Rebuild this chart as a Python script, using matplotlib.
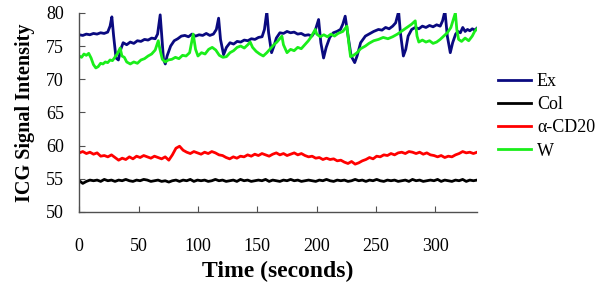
import numpy as np
import matplotlib
matplotlib.use("Agg")
import matplotlib.pyplot as plt

# ---- data ----
ex_t = [0, 3, 6, 9, 12, 15, 18, 21, 24, 26, 27.5, 29, 31, 33, 35, 37, 40, 43, 46, 49,
        52, 55, 58, 61, 64, 66, 68.2, 69.5, 71, 72.5, 74, 77, 80, 83, 86, 89, 92, 95, 98, 101,
        104, 107, 110, 113, 115.5, 117.4, 119, 121.6, 124, 127, 130, 133, 136, 139, 142, 145, 148, 151, 154, 156,
        158, 159.5, 162, 164, 166, 169, 172, 175, 178, 181, 184, 187, 190, 193, 196, 198.5, 201.6, 203.5, 205.8, 208,
        211, 214, 217, 220, 222, 224, 226, 229, 232, 234, 237, 241, 244, 248, 252, 255, 258, 261, 264, 266.5,
        269, 270.5, 273, 275, 277, 280, 283, 286, 289, 292, 295, 298, 301, 304, 306, 308, 310, 312.5, 314.5, 317,
        319, 321, 323, 325, 327, 329, 331, 333, 335]
ex_v = [76.7, 76.6, 76.8, 76.7, 76.9, 76.8, 77.0, 76.9, 77.1, 78.0, 79.4, 76.5, 73.2, 72.9, 74.5, 75.5, 75.2, 75.6, 75.4, 75.8,
        75.7, 76.0, 75.9, 76.2, 76.1, 76.8, 79.7, 76.5, 73.0, 72.3, 73.5, 75.0, 75.8, 76.1, 76.5, 76.6, 76.4, 76.8, 76.5, 76.7,
        76.6, 76.9, 76.6, 76.8, 77.5, 79.2, 76.0, 73.7, 74.8, 75.5, 75.3, 75.7, 75.6, 75.9, 75.8, 76.1, 76.0, 76.3, 76.4, 77.5,
        80.2, 77.0, 74.0, 75.0, 76.2, 77.0, 76.9, 77.2, 77.0, 77.1, 76.8, 76.9, 76.6, 76.7, 76.5, 77.2, 79.0, 75.5, 73.2, 74.8,
        76.3, 77.0, 77.2, 77.5, 78.3, 79.5, 77.0, 73.5, 72.5, 73.5, 75.5, 76.5, 76.8, 77.2, 77.5, 77.4, 77.8, 77.6, 78.0, 78.5,
        80.2, 77.0, 73.5, 74.5, 76.5, 77.5, 77.8, 77.6, 78.0, 77.8, 78.1, 77.9, 78.2, 78.0, 78.8, 80.3, 76.5, 74.0, 75.5, 76.8,
        77.2, 77.0, 77.8, 77.2, 77.5, 77.3, 77.6, 77.4, 77.7]

w_t = [0, 2, 4, 6, 8, 10, 12, 14, 16, 18, 20, 22, 24, 26, 28, 30, 32, 34.5, 36, 38,
       40, 43, 46, 49, 52, 55, 58, 61, 64, 66.6, 68, 70, 72.5, 75, 78, 81, 84, 87, 90, 93,
       96, 98, 100, 103, 106, 109, 112, 115, 118, 121, 124, 127, 130, 133, 136, 139, 142, 144, 146, 149,
       152, 155, 158, 161, 164, 166.5, 170.7, 172, 175, 178, 181, 184, 187, 190, 193, 195, 198.8, 200, 203, 206,
       209, 212, 215, 218, 222, 225.5, 227, 228.5, 231, 234, 237, 241, 244, 248, 252, 256, 260, 264, 268, 272,
       276, 280, 283, 284.5, 286, 289, 292, 295, 298, 301, 304, 307, 310, 313, 316.8, 318, 319.5, 322, 325, 328,
       331, 333, 335]
w_v = [73.5, 73.3, 73.8, 73.6, 73.9, 73.2, 72.2, 71.7, 71.9, 72.4, 72.3, 72.6, 72.5, 72.9, 72.8, 73.3, 73.8, 74.7, 73.5, 73.3,
       72.6, 72.3, 72.6, 72.4, 72.9, 73.1, 73.5, 73.8, 74.4, 75.8, 74.5, 73.0, 72.6, 72.9, 73.0, 73.3, 73.1, 73.6, 73.5, 74.0,
       76.8, 74.5, 73.5, 74.0, 73.8, 74.5, 74.8, 74.4, 73.6, 73.3, 73.4, 74.0, 74.3, 74.8, 75.0, 74.7, 75.2, 75.6, 74.8, 74.2,
       73.8, 73.5, 74.0, 74.6, 75.2, 75.6, 76.5, 75.2, 74.0, 74.5, 74.3, 74.8, 74.6, 75.2, 75.8, 76.3, 77.5, 76.8, 76.4, 76.7,
       76.4, 76.8, 76.5, 76.9, 77.2, 78.0, 75.5, 73.4, 73.6, 74.0, 74.6, 75.0, 75.4, 75.8, 76.0, 76.3, 76.1, 76.4, 76.8, 77.3,
       77.8, 78.3, 78.8, 76.5, 75.6, 75.9, 75.6, 75.8, 75.4, 75.6, 76.0, 76.5, 77.0, 77.8, 80.0, 77.5, 76.0, 75.7, 76.2, 75.8,
       76.5, 77.2, 77.6]

# alpha-CD20 and Col, sampled about every 3 s over 0-335 s
cd20_v = [58.9, 59.1, 58.8, 59.0, 58.7, 58.9, 58.4, 58.5, 58.3, 58.6,
          58.2, 57.8, 58.1, 57.9, 58.3, 58.0, 58.4, 58.2, 58.5, 58.3,
          58.1, 58.4, 58.2, 58.0, 58.3, 57.8, 58.6, 59.6, 59.9, 59.3,
          59.0, 58.8, 59.1, 58.9, 58.7, 59.0, 58.8, 59.1, 58.9, 58.6,
          58.5, 58.2, 58.0, 58.3, 58.1, 58.4, 58.3, 58.6, 58.4, 58.7,
          58.5, 58.8, 58.6, 58.4, 58.7, 58.9, 58.6, 58.8, 58.5, 58.7,
          58.9, 58.6, 58.8, 58.5, 58.3, 58.4, 58.1, 58.2, 57.9, 58.1,
          57.9, 58.0, 57.7, 57.8, 57.5, 57.3, 57.6, 57.2, 57.4, 57.7,
          57.9, 58.2, 58.0, 58.4, 58.3, 58.6, 58.5, 58.8, 58.6, 58.9,
          59.0, 58.8, 59.1, 59.0, 58.8, 59.0, 58.7, 58.9, 58.6, 58.5,
          58.3, 58.5, 58.2, 58.4, 58.3, 58.6, 58.8, 59.1, 58.9, 59.0,
          58.8, 59.0]
col_v = [54.7, 54.3, 54.6, 54.8, 54.7, 54.8, 54.6, 54.9, 54.7, 54.8,
         54.6, 54.8, 54.7, 54.9, 54.7, 54.6, 54.8, 54.7, 54.9, 54.8,
         54.6, 54.7, 54.8, 54.6, 54.7, 54.5, 54.7, 54.8, 54.6, 54.8,
         54.7, 54.9, 54.6, 54.8, 54.7, 54.8, 54.6, 54.7, 54.9, 54.7,
         54.8, 54.6, 54.7, 54.8, 54.6, 54.9, 54.7, 54.8, 54.6, 54.7,
         54.8, 54.7, 54.9, 54.6, 54.8, 54.7, 54.6, 54.8, 54.7, 54.9,
         54.7, 54.8, 54.6, 54.7, 54.8, 54.7, 54.6, 54.8, 54.7, 54.9,
         54.7, 54.6, 54.8, 54.7, 54.8, 54.6, 54.7, 54.9, 54.7, 54.8,
         54.6, 54.8, 54.7, 54.9, 54.7, 54.6, 54.8, 54.7, 54.8, 54.6,
         54.7, 54.8, 54.6, 54.9, 54.7, 54.8, 54.6, 54.7, 54.8, 54.7,
         54.9, 54.6, 54.8, 54.7, 54.6, 54.8, 54.7, 54.9, 54.6, 54.8,
         54.7, 54.8]
cd20_t = np.linspace(0, 335, len(cd20_v))
col_t = np.linspace(0, 335, len(col_v))

x_ticks = [0, 50, 100, 150, 200, 250, 300]
y_ticks = [50, 55, 60, 65, 70, 75, 80]

plt.rcParams['font.family'] = ['Liberation Serif', 'DejaVu Serif']

fig = plt.figure(figsize=(6.0, 2.86), dpi=100)
ax = fig.add_axes([0.132, 0.259, 0.663, 0.696])

lw = 2.0
ax.plot(ex_t, ex_v, color='#0a0a80', lw=lw, label='Ex')
ax.plot(col_t, col_v, color='black', lw=lw, label='Col')
ax.plot(cd20_t, cd20_v, color='#ff0000', lw=lw, label='α-CD20')
ax.plot(w_t, w_v, color='#1aee1a', lw=lw, label='W')

ax.set_xlim(0, 335)
ax.set_ylim(50, 80)
ax.set_xticks(x_ticks)
ax.set_yticks(y_ticks)
for s in ['top', 'right']:
    ax.spines[s].set_visible(False)
for s in ['left', 'bottom']:
    ax.spines[s].set_color('#505050')
    ax.spines[s].set_linewidth(1.0)
ax.tick_params(axis='both', direction='in', length=4.5, width=0.8, color='#505050', labelsize=13)
ax.tick_params(axis='x', pad=19)
ax.tick_params(axis='y', pad=11)

ax.set_xlabel("Time (seconds)", fontsize=17, fontweight='bold', labelpad=4)
ax.set_ylabel("ICG Signal Intensity", fontsize=14.5, fontweight='bold', labelpad=8)

ax.legend(loc='upper left', bbox_to_anchor=(1.035, 0.735), frameon=False, fontsize=13,
          handlelength=1.8, handletextpad=0.35, labelspacing=0.35, borderaxespad=0)

fig.savefig("out.png", dpi=100)
